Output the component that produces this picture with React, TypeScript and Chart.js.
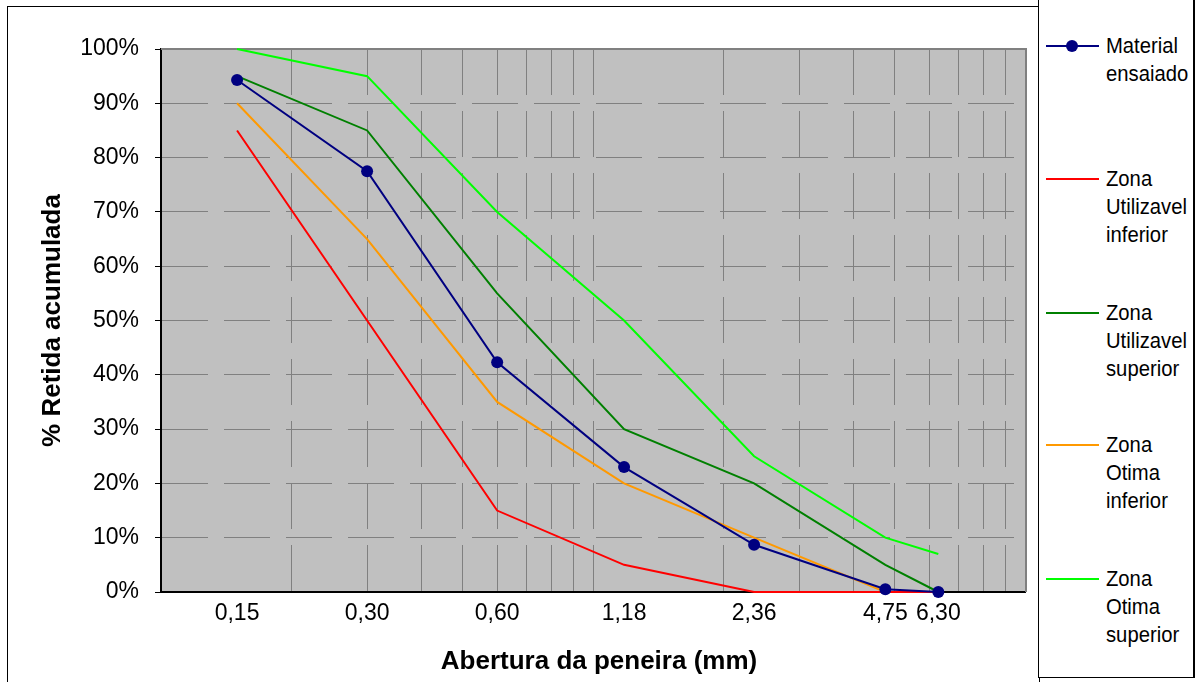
import React, { useEffect, useRef } from "react";
import { Chart, registerables } from "chart.js";

Chart.register(...registerables);

// Sieve openings (mm) and their printed labels
const sieveSizes = [0.15, 0.3, 0.6, 1.18, 2.36, 4.75, 6.3];
const sieveLabels = ["0,15", "0,30", "0,60", "1,18", "2,36", "4,75", "6,30"];

// Logarithmic grid lines on the opening axis
const gridValues = [
  0.1, 0.2, 0.3, 0.4, 0.5, 0.6, 0.7, 0.8, 0.9,
  1, 2, 3, 4, 5, 6, 7, 8, 9, 10,
];

// Cumulative retained percentage per sieve
const materialEnsaiado = [94.3, 77.5, 42.3, 23.0, 8.7, 0.5, 0.0];
const utilizavelInferior = [85, 50, 15, 5, 0, 0, 0];
const utilizavelSuperior = [95, 85, 55, 30, 20, 5, 0];
const otimaInferior = [90, 65, 35, 20, 10, 0, 0];
const otimaSuperior = [100, 95, 70, 50, 25, 10, 7];

const seriesNames = [
  "Material ensaiado",
  "Zona Utilizavel inferior",
  "Zona Utilizavel superior",
  "Zona Otima inferior",
  "Zona Otima superior",
];
const seriesValues = [
  materialEnsaiado,
  utilizavelInferior,
  utilizavelSuperior,
  otimaInferior,
  otimaSuperior,
];
const seriesColors = ["#000080", "#FF0000", "#008000", "#FF9900", "#00FF00"];
const seriesMarkers = [true, false, false, false, false];

const FONT = 'Arial, "Liberation Sans", sans-serif';

const xTickValues = Array.from(new Set([...gridValues, ...sieveSizes])).sort(
  (a, b) => a - b
);
const isIn = (list: number[], v: number) => list.some((g) => Math.abs(g - v) < 1e-9);

// Grey plot background plus the grey top/right frame of the plot area
const plotFrame = {
  id: "plotFrame",
  beforeDraw(chart: any) {
    const { ctx, chartArea: a } = chart;
    ctx.save();
    ctx.fillStyle = "#C0C0C0";
    ctx.fillRect(a.left, a.top, a.right - a.left, a.bottom - a.top);
    ctx.restore();
  },
  beforeDatasetsDraw(chart: any) {
    const { ctx, chartArea: a } = chart;
    ctx.save();
    ctx.strokeStyle = "#808080";
    ctx.lineWidth = 2;
    ctx.beginPath();
    ctx.moveTo(a.left, a.top);
    ctx.lineTo(a.right + 1, a.top);
    ctx.lineTo(a.right + 1, a.bottom);
    ctx.stroke();
    ctx.restore();
  },
};

function GradingChart() {
  const canvasRef = useRef<HTMLCanvasElement | null>(null);

  useEffect(() => {
    if (!canvasRef.current) return;
    const chart = new Chart(canvasRef.current, {
      type: "line",
      data: {
        datasets: seriesNames.map((name, s) => ({
          label: name,
          data: sieveSizes.map((x, i) => ({ x, y: seriesValues[s][i] })),
          borderColor: seriesColors[s],
          backgroundColor: seriesColors[s],
          borderWidth: 2,
          pointRadius: seriesMarkers[s] ? 6 : 0,
          pointHoverRadius: seriesMarkers[s] ? 6 : 0,
          pointBorderWidth: 0,
          tension: 0,
          fill: false,
          clip: 6,
        })),
      },
      options: {
        responsive: false,
        animation: false,
        events: [],
        layout: { padding: { top: 49, right: 0, left: 0, bottom: 0 } },
        plugins: {
          legend: { display: false },
          tooltip: { enabled: false },
        },
        scales: {
          x: {
            type: "logarithmic",
            min: 0.1,
            max: 10,
            afterBuildTicks: (scale: any) => {
              scale.ticks = xTickValues.map((v) => ({ value: v }));
            },
            afterFit: (scale: any) => {
              scale.height = 90;
            },
            grid: {
              color: (ctx: any) =>
                ctx.tick && isIn(gridValues, ctx.tick.value) ? "#808080" : "rgba(0,0,0,0)",
              lineWidth: 1,
              drawTicks: false,
            },
            border: { display: true, color: "#000000", width: 2, dash: [46, 16] },
            ticks: {
              autoSkip: false,
              maxRotation: 0,
              minRotation: 0,
              padding: 8,
              color: "#000000",
              font: { family: FONT, size: 23 },
              callback: (value: any) => {
                const i = sieveSizes.findIndex((s) => Math.abs(s - Number(value)) < 1e-9);
                return i >= 0 ? sieveLabels[i] : "";
              },
            },
          },
          y: {
            type: "linear",
            min: 0,
            max: 100,
            afterFit: (scale: any) => {
              scale.width = 161;
            },
            grid: {
              color: "#808080",
              lineWidth: 1,
              drawTicks: true,
              tickLength: 6,
              tickColor: "#000000",
              tickWidth: 1,
              tickBorderDash: [],
            },
            border: { display: true, color: "#000000", width: 2, dash: [46, 16] },
            ticks: {
              stepSize: 10,
              padding: 16,
              color: "#000000",
              font: { family: FONT, size: 23 },
              callback: (v: any) => `${v}%`,
            },
            title: {
              display: true,
              text: "% Retida acumulada",
              color: "#000000",
              font: { family: FONT, size: 26, weight: "bold" },
              padding: { top: 37, bottom: 0 },
            },
          },
        },
      },
      plugins: [plotFrame],
    } as any);
    return () => chart.destroy();
  }, []);

  return (
    <canvas
      ref={canvasRef}
      width={1033}
      height={682}
      style={{ position: "absolute", left: 0, top: 0, width: 1033, height: 682 }}
    />
  );
}

// Legend entry centres (px from top of the page)
const legendRowY = [45, 178, 312, 444, 578];

function SideLegend() {
  return (
    <div
      style={{
        position: "absolute",
        left: 1038,
        top: -2,
        width: 154,
        height: 678,
        borderLeft: "1px solid #000",
        borderBottom: "1px solid #000",
        borderRight: "2px solid #000",
        borderTop: "1px solid #000",
        background: "#fff",
      }}
    >
      {seriesNames.map((name, s) => (
        <div key={name}>
          <div
            style={{
              position: "absolute",
              left: 7,
              top: legendRowY[s] + 2 - 1,
              width: 53,
              height: 2,
              background: seriesColors[s],
            }}
          />
          {seriesMarkers[s] && (
            <div
              style={{
                position: "absolute",
                left: 27,
                top: legendRowY[s] + 2 - 6,
                width: 12,
                height: 12,
                borderRadius: 6,
                background: seriesColors[s],
              }}
            />
          )}
          <div
            style={{
              position: "absolute",
              left: 67,
              top: legendRowY[s] + 2 - 14,
              width: "min-content",
              fontFamily: FONT,
              fontSize: 22,
              lineHeight: "28px",
              color: "#000",
              transform: "scaleX(0.92)",
              transformOrigin: "left top",
            }}
          >
            {name}
          </div>
        </div>
      ))}
    </div>
  );
}

export default function App() {
  return (
    <div
      style={{
        position: "fixed",
        left: 0,
        top: 0,
        width: 1200,
        height: 682,
        overflow: "hidden",
        background: "#fff",
      }}
    >
      <div
        style={{
          position: "absolute",
          left: 7,
          top: 6,
          width: 1031,
          height: 720,
          border: "1px solid #000",
        }}
      />
      <GradingChart />
      <div
        style={{
          position: "absolute",
          left: 599,
          top: 660,
          transform: "translate(-50%, -50%)",
          whiteSpace: "nowrap",
          fontFamily: FONT,
          fontSize: 26,
          fontWeight: "bold",
          color: "#000",
        }}
      >
        Abertura da peneira (mm)
      </div>
      <SideLegend />
    </div>
  );
}
